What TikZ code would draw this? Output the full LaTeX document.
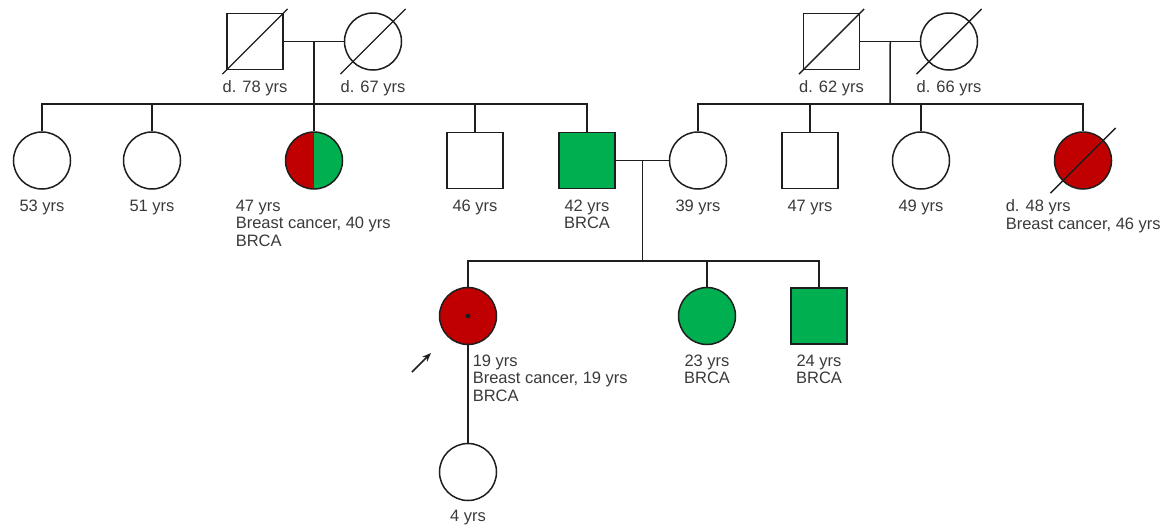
\documentclass[tikz,border=0pt]{standalone}
\usepackage{fontspec}
\setmainfont{Liberation Sans}
\usetikzlibrary{arrows.meta, calc}
\definecolor{cred}{HTML}{C00000}
\definecolor{cgreen}{HTML}{00B050}
\definecolor{cline}{HTML}{1E1E1E}
\definecolor{ctext}{HTML}{3A3A3A}
\tikzset{
  every picture/.style={line width=1.5pt},
  male/.style={draw=cline, rectangle, minimum size=56pt, inner sep=0pt, fill=#1},
  male/.default=white,
  female/.style={draw=cline, circle, minimum size=57pt, inner sep=0pt, fill=#1},
  female/.default=white,
  halffill/.style={female=cgreen, path picture={\fill[cred] (path picture bounding box.north west) rectangle (path picture bounding box.south);}},
  lbl/.style={font=\fontsize{16.5}{17.5}\selectfont, text=ctext, inner sep=0pt, anchor=north, align=center},
  lblleft/.style={lbl, anchor=north west, align=left},
  rel/.style={draw=cline, line width=1.5pt},
  dead/.style={draw=cline, line width=1.4pt},
}

\begin{document}
\begin{tikzpicture}[x=1pt, y=-1pt]
  \useasboundingbox (0,0) rectangle (1165,525);
  % grandparents
  \node[male] (gf1) at (255,41.5) {};
  \node[female] (gm1) at (373,41.5) {};
  \node[male] (gf2) at (831.5,41.5) {};
  \node[female] (gm2) at (949,41.5) {};
  \draw[dead] ($(gf1)+(135:46)$) -- ($(gf1)+(-45:46)$);
  \draw[dead] ($(gm1)+(135:46)$) -- ($(gm1)+(-45:46)$);
  \draw[dead] ($(gf2)+(135:46)$) -- ($(gf2)+(-45:46)$);
  \draw[dead] ($(gm2)+(135:46)$) -- ($(gm2)+(-45:46)$);
  \node[lbl] (lgf1) at (255,80) {d. 78 yrs};
  \node[lbl] (lgm1) at (373,80) {d. 67 yrs};
  \node[lbl] (lgf2) at (831.5,80) {d. 62 yrs};
  \node[lbl] (lgm2) at (949,80) {d. 66 yrs};
  \draw[rel] (gf1) -- (gm1);
  \draw[rel] (gf2) -- (gm2);
  \coordinate (m1) at ($(gf1)!0.5!(gm1)$);
  \coordinate (m2) at ($(gf2)!0.5!(gm2)$);
  \coordinate (sib1) at (314,104);
  \coordinate (sib2) at (890,104);
  % second generation
  \node[female] (a1) at (42,160.5) {};
  \node[female] (a2) at (152,160.5) {};
  \node[halffill] (a3) at (314,160.5) {};
  \node[male] (a4) at (475,160.5) {};
  \node[male=cgreen] (a5) at (587,160.5) {};
  \node[female] (b1) at (698,160.5) {};
  \node[male] (b2) at (810,160.5) {};
  \node[female] (b3) at (921,160.5) {};
  \node[female=cred] (b4) at (1083,160.5) {};
  \draw[dead] ($(b4)+(135:46)$) -- ($(b4)+(-45:46)$);
  \node[lbl] (la1) at (42,199) {53 yrs};
  \node[lbl] (la2) at (152,199) {51 yrs};
  \node[lblleft] (la3) at (235,199) {47 yrs\\Breast cancer, 40 yrs\\BRCA};
  \node[lbl] (la4) at (475,199) {46 yrs};
  \node[lbl] (la5) at (587,199) {42 yrs\\BRCA};
  \node[lbl] (lb1) at (698,199) {39 yrs};
  \node[lbl] (lb2) at (810,199) {47 yrs};
  \node[lbl] (lb3) at (921,199) {49 yrs};
  \node[lblleft] (lb4) at (1005,199) {d. 48 yrs\\Breast cancer, 46 yrs};
  \draw[rel] (m1) -- (sib1);
  \draw[rel] (a1.north) |- (sib1) -| (a5.north);
  \draw[rel] (a2.north) -- (a2.north |- sib1);
  \draw[rel] (a3.north) -- (sib1);
  \draw[rel] (a4.north) -- (a4.north |- sib1);
  \draw[rel] (m2) -- (sib2);
  \draw[rel] (b1.north) |- (sib2) -| (b4.north);
  \draw[rel] (b2.north) -- (b2.north |- sib2);
  \draw[rel] (b3.north) -- (b3.north |- sib2);
  % third generation
  \draw[rel] (a5) -- (b1);
  \coordinate (m3) at ($(a5)!0.5!(b1)$);
  \coordinate (sib3) at (m3 |- 0,261);
  \node[female=cred] (c1) at (468,316) {};
  \node[female=cgreen] (c2) at (707,316) {};
  \node[male=cgreen] (c3) at (819,316) {};
  \fill[cline] (c1) circle[radius=2.5pt];
  \node[lblleft] (lc1) at (472,354) {19 yrs\\Breast cancer, 19 yrs\\BRCA};
  \node[lbl] (lc2) at (707,354) {23 yrs\\BRCA};
  \node[lbl] (lc3) at (819,354) {24 yrs\\BRCA};
  \draw[rel] (m3) -- (sib3);
  \draw[rel] (c1.north) |- (sib3) -| (c3.north);
  \draw[rel] (c2.north) -- (c2.north |- sib3);
  % proband arrow
  \coordinate (ptail) at (412,372);
  \coordinate (phead) at (431,353);
  \draw[-{Stealth[length=9pt, width=7pt]}, line width=1.5pt, draw=cline] (ptail) -- (phead);
  % fourth generation
  \node[female] (d1) at (468,472) {};
  \node[lbl] (ld1) at (468,509) {4 yrs};
  \draw[rel] (c1) -- (d1);
\end{tikzpicture}
\end{document}
